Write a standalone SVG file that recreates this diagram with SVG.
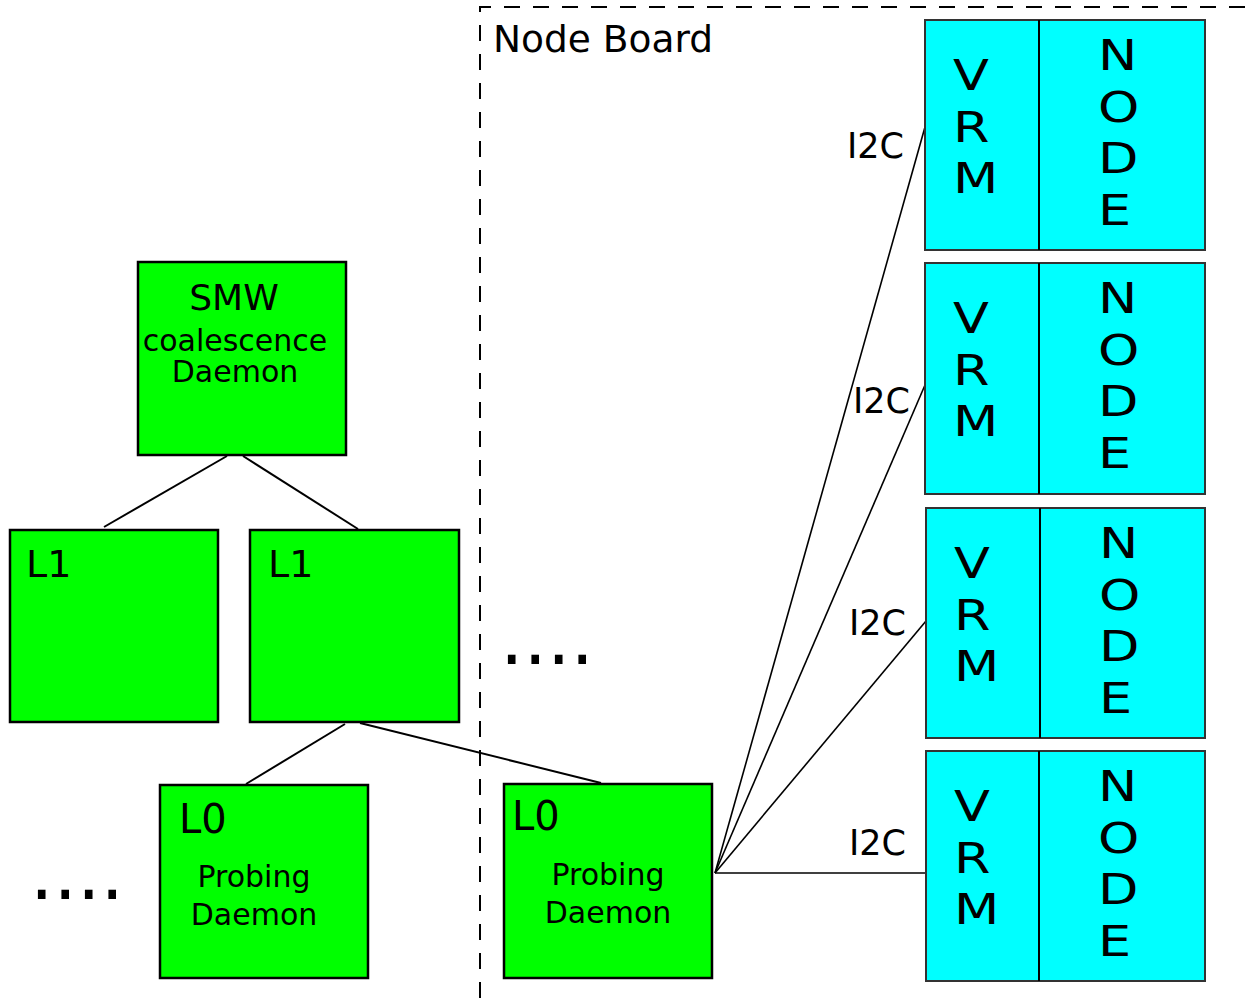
<svg xmlns="http://www.w3.org/2000/svg" width="1246" height="998" viewBox="0 0 1246 998">
<style>
text{font-family:"DejaVu Sans","Liberation Sans",sans-serif;fill:#000}
.g{fill:#00ff00;stroke:#000;stroke-width:2.5}
.c{fill:#00ffff;stroke:#333;stroke-width:2}
.div{stroke:#000;stroke-width:2}
.tree{stroke:#000;stroke-width:2;fill:none}
.i2c{stroke:#000;stroke-width:1.6;fill:none}
.lbl{font-size:35px}
.big{font-size:42px}
.dots{font-size:74px}
</style>
<rect width="1246" height="998" fill="#fff"/>
<g id="nodeboard">
<path d="M480,998 V7 H1246" fill="none" stroke="#000" stroke-width="2" stroke-dasharray="16 13"/>
<text x="493" y="52" style="font-size:37.5px">Node Board</text>
</g>
<g id="connectors">
<line class="tree" x1="227" y1="456" x2="104" y2="527"/>
<line class="tree" x1="243" y1="456" x2="358" y2="529"/>
<line class="tree" x1="345" y1="724" x2="246" y2="784"/>
<line class="tree" x1="360" y1="723" x2="601" y2="783"/>
<line class="i2c" x1="715" y1="873" x2="925" y2="127"/>
<line class="i2c" x1="715" y1="873" x2="925" y2="385"/>
<line class="i2c" x1="715" y1="873" x2="926" y2="621"/>
<line class="i2c" x1="715" y1="873" x2="926" y2="873"/>
</g>
<g id="i2c-labels">
<text class="lbl" x="847" y="158">I2C</text>
<text class="lbl" x="853" y="413">I2C</text>
<text class="lbl" x="849" y="635">I2C</text>
<text class="lbl" x="849" y="855">I2C</text>
</g>
<g id="smw">
<rect class="g" x="138" y="262" width="208" height="193"/>
<text x="234" y="310" text-anchor="middle" style="font-size:36px">SMW</text>
<text x="235" y="351" text-anchor="middle" style="font-size:30px">coalescence</text>
<text x="235" y="382" text-anchor="middle" style="font-size:30px">Daemon</text>
</g>
<g id="l1-left">
<rect class="g" x="10" y="530" width="208" height="192"/>
<text x="26" y="577" style="font-size:38px">L1</text>
</g>
<g id="l1-right">
<rect class="g" x="250" y="530" width="209" height="192"/>
<text x="268" y="577" style="font-size:38px">L1</text>
</g>
<g id="l0-left">
<rect class="g" x="160" y="785" width="208" height="193"/>
<text x="179" y="833" style="font-size:40px">L0</text>
<text x="254" y="887" text-anchor="middle" style="font-size:30px">Probing</text>
<text x="254" y="925" text-anchor="middle" style="font-size:30px">Daemon</text>
</g>
<g id="l0-right">
<rect class="g" x="504" y="784" width="208" height="194"/>
<text x="512" y="830" style="font-size:40px">L0</text>
<text x="608" y="885" text-anchor="middle" style="font-size:30px">Probing</text>
<text x="608" y="923" text-anchor="middle" style="font-size:30px">Daemon</text>
</g>
<g id="dots-left"><text class="dots" x="30" y="899">....</text></g>
<g id="dots-mid"><text class="dots" x="500" y="664">....</text></g>
<g id="vrm-node-1">
<rect class="c" x="925" y="20" width="280" height="230"/>
<line class="div" x1="1039" y1="20" x2="1039" y2="250"/>
<text class="big" transform="translate(953,0) scale(1.25,1)"><tspan x="0" y="90">V</tspan><tspan x="0" y="141.7">R</tspan><tspan x="0" y="193.4">M</tspan></text>
<text class="big" transform="translate(1098,0) scale(1.25,1)"><tspan x="0" y="70">N</tspan><tspan x="0" y="121.7">O</tspan><tspan x="0" y="173.4">D</tspan><tspan x="0" y="225">E</tspan></text>
</g>
<g id="vrm-node-2">
<rect class="c" x="925" y="263" width="280" height="231"/>
<line class="div" x1="1039" y1="263" x2="1039" y2="494"/>
<text class="big" transform="translate(953,243) scale(1.25,1)"><tspan x="0" y="90">V</tspan><tspan x="0" y="141.7">R</tspan><tspan x="0" y="193.4">M</tspan></text>
<text class="big" transform="translate(1098,243) scale(1.25,1)"><tspan x="0" y="70">N</tspan><tspan x="0" y="121.7">O</tspan><tspan x="0" y="173.4">D</tspan><tspan x="0" y="225">E</tspan></text>
</g>
<g id="vrm-node-3">
<rect class="c" x="926" y="508" width="279" height="230"/>
<line class="div" x1="1040" y1="508" x2="1040" y2="738"/>
<text class="big" transform="translate(954,488) scale(1.25,1)"><tspan x="0" y="90">V</tspan><tspan x="0" y="141.7">R</tspan><tspan x="0" y="193.4">M</tspan></text>
<text class="big" transform="translate(1099,488) scale(1.25,1)"><tspan x="0" y="70">N</tspan><tspan x="0" y="121.7">O</tspan><tspan x="0" y="173.4">D</tspan><tspan x="0" y="225">E</tspan></text>
</g>
<g id="vrm-node-4">
<rect class="c" x="926" y="751" width="279" height="230"/>
<line class="div" x1="1039" y1="751" x2="1039" y2="981"/>
<text class="big" transform="translate(954,731) scale(1.25,1)"><tspan x="0" y="90">V</tspan><tspan x="0" y="141.7">R</tspan><tspan x="0" y="193.4">M</tspan></text>
<text class="big" transform="translate(1098,731) scale(1.25,1)"><tspan x="0" y="70">N</tspan><tspan x="0" y="121.7">O</tspan><tspan x="0" y="173.4">D</tspan><tspan x="0" y="225">E</tspan></text>
</g>
</svg>
